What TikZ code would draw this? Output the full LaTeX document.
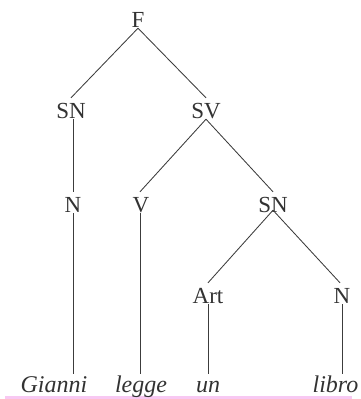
\documentclass[tikz,border=0pt]{standalone}
\usepackage{fontspec}
\setmainfont{Liberation Serif}
\definecolor{treeline}{RGB}{60,60,60}
\definecolor{textgray}{RGB}{50,50,50}
\definecolor{hlpink}{RGB}{248,200,242}
\begin{document}
\begin{tikzpicture}[x=1pt,y=-1pt,
  cat/.style={anchor=base,inner sep=1pt,text height=19pt,text depth=0pt,
    font=\fontsize{23}{23}\selectfont,text=textgray},
  word/.style={anchor=base,inner sep=1pt,text height=17pt,text depth=0pt,
    font=\fontsize{24}{24}\selectfont\itshape,text=textgray},
  branch/.style={draw=treeline,line width=0.85pt}]
\useasboundingbox (0,0) rectangle (360,399);
\fill[hlpink] (5,395.5) rectangle (352,399);
% categories
\node[cat] (F)   at (138,27)  {F};
\node[cat] (SN)  at (71,118)  {SN};
\node[cat] (SV)  at (206,118) {SV};
\node[cat] (N)   at (73,212)  {N};
\node[cat] (V)   at (141,212) {V};
\node[cat] (SNb) at (273,212) {SN};
\node[cat] (Art) at (208,303) {Art};
\node[cat] (Nb)  at (342,303) {N};
% words
\node[word] (Gianni) at (54,392)  {Gianni};
\node[word] (legge)  at (141,392) {legge};
\node[word] (un)     at (208,392) {un};
\node[word] (libro)  at (335.5,392) {libro};
% branches
\draw[branch] (F.south) -- (SN.north);
\draw[branch] (F.south) -- (SV.north);
\draw[branch] ([xshift=2pt]SN.south) -- (N.north);
\draw[branch] (SV.south) -- ([xshift=-1pt]V.north);
\draw[branch] (SV.south) -- (SNb.north);
\draw[branch] ([xshift=-1pt]V.south) -- ([xshift=-1pt]legge.north);
\draw[branch] ([yshift=3pt]SNb.south) -- (Art.north);
\draw[branch] ([yshift=3pt]SNb.south) -- ([xshift=-2pt]Nb.north);
\draw[branch] (N.south) -- (N.south |- Gianni.north);
\draw[branch] (Art.south) -- (un.north);
\draw[branch] (Nb.south) -- (Nb.south |- libro.north);
\end{tikzpicture}
\end{document}
